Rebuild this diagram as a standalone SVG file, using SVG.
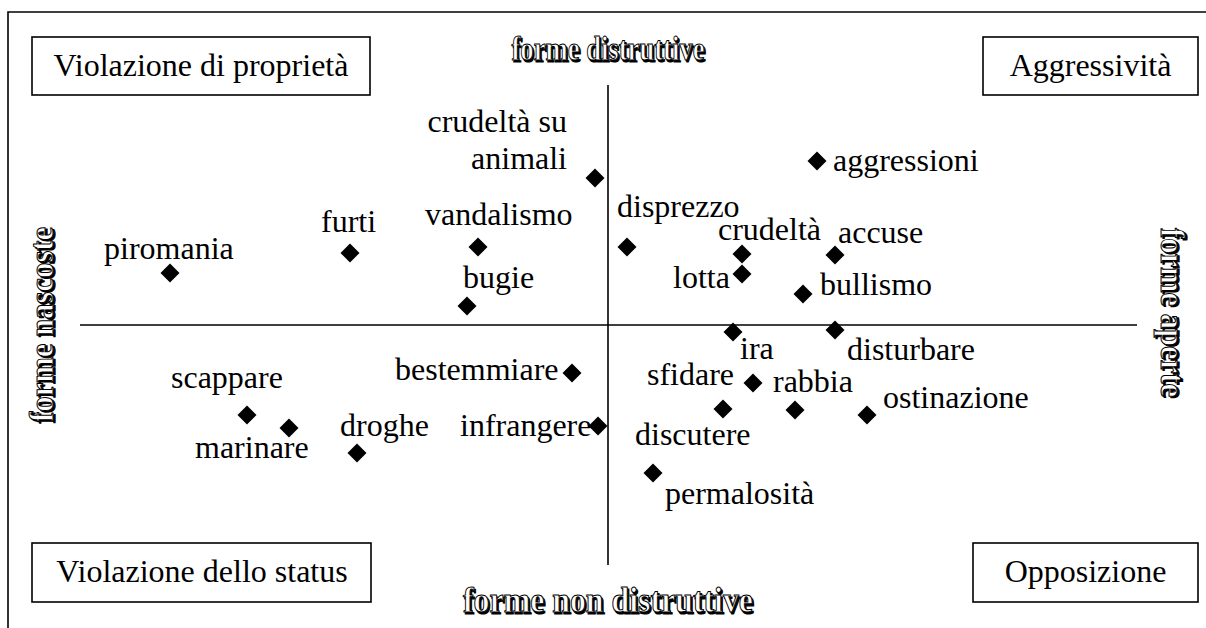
<svg xmlns="http://www.w3.org/2000/svg" xmlns:xlink="http://www.w3.org/1999/xlink" width="1206" height="628" viewBox="0 0 1206 628">
<style>
.lbl{font-family:"Liberation Serif","Times New Roman",serif;font-size:32px;fill:#000}
.box{fill:#fff;stroke:#000;stroke-width:1.6}
.ax{stroke:#000;stroke-width:1.6;fill:none}
.emb{font-family:"Liberation Serif","Times New Roman",serif;font-weight:bold;font-size:33px}
.sh{fill:#000;stroke:#000;stroke-width:1.2}
.fg{fill:#fff;stroke:#000;stroke-width:1}
</style>
<defs>
<path id="d" d="M0,-9.5 L9.5,0 L0,9.5 L-9.5,0 Z" fill="#000"/>
</defs>
<rect width="1206" height="628" fill="#fff"/>
<path class="ax" d="M8,628 V12 H1206"/>
<g id="axes">
<line class="ax" x1="608" y1="85" x2="608" y2="565"/>
<line class="ax" x1="80" y1="325" x2="1137" y2="325"/>
</g>
<g id="axis-labels">
<g id="top-label">
<text class="emb sh" x="609.5" y="61.5" text-anchor="middle" textLength="193" lengthAdjust="spacingAndGlyphs">forme distruttive</text>
<text class="emb fg" x="608" y="60" text-anchor="middle" textLength="193" lengthAdjust="spacingAndGlyphs">forme distruttive</text>
</g>
<g id="bottom-label">
<text class="emb sh" x="609.5" y="613.5" text-anchor="middle" textLength="290" lengthAdjust="spacingAndGlyphs" style="font-size:35px">forme non distruttive</text>
<text class="emb fg" x="608" y="612" text-anchor="middle" textLength="290" lengthAdjust="spacingAndGlyphs" style="font-size:35px">forme non distruttive</text>
</g>
<g id="left-label">
<text class="emb sh" transform="translate(54.5,326) rotate(-90)" text-anchor="middle" textLength="195" lengthAdjust="spacingAndGlyphs">forme nascoste</text>
<text class="emb fg" transform="translate(53,324.5) rotate(-90)" text-anchor="middle" textLength="195" lengthAdjust="spacingAndGlyphs">forme nascoste</text>
</g>
<g id="right-label">
<text class="emb sh" transform="translate(1162.5,314) rotate(90)" text-anchor="middle" textLength="169" lengthAdjust="spacingAndGlyphs">forme aperte</text>
<text class="emb fg" transform="translate(1161,312.5) rotate(90)" text-anchor="middle" textLength="169" lengthAdjust="spacingAndGlyphs">forme aperte</text>
</g>
</g>
<g id="q-violazione-proprieta">
<rect class="box" x="32" y="37" width="338" height="58"/>
<text class="lbl" x="201" y="76" text-anchor="middle">Violazione di proprietà</text>
</g>
<g id="q-aggressivita">
<rect class="box" x="983" y="37" width="215" height="58"/>
<text class="lbl" x="1090.5" y="76" text-anchor="middle">Aggressività</text>
</g>
<g id="q-violazione-status">
<rect class="box" x="32" y="543" width="339" height="59"/>
<text class="lbl" x="202" y="582" text-anchor="middle">Violazione dello status</text>
</g>
<g id="q-opposizione">
<rect class="box" x="973" y="543" width="225" height="59"/>
<text class="lbl" x="1085.5" y="582" text-anchor="middle">Opposizione</text>
</g>
<g id="n-crudelta-animali"><use xlink:href="#d" x="595" y="178"/><text class="lbl" x="567" y="132" text-anchor="end">crudeltà su</text><text class="lbl" x="567" y="169" text-anchor="end">animali</text></g>
<g id="n-vandalismo"><use xlink:href="#d" x="478" y="247"/><text class="lbl" x="425" y="225">vandalismo</text></g>
<g id="n-furti"><use xlink:href="#d" x="350" y="253"/><text class="lbl" x="321" y="232">furti</text></g>
<g id="n-piromania"><use xlink:href="#d" x="170" y="273"/><text class="lbl" x="104" y="259">piromania</text></g>
<g id="n-bugie"><use xlink:href="#d" x="467" y="306"/><text class="lbl" x="463" y="288">bugie</text></g>
<g id="n-disprezzo"><use xlink:href="#d" x="627" y="247"/><text class="lbl" x="617" y="217">disprezzo</text></g>
<g id="n-aggressioni"><use xlink:href="#d" x="817" y="161"/><text class="lbl" x="833" y="171">aggressioni</text></g>
<g id="n-crudelta"><use xlink:href="#d" x="742" y="254"/><text class="lbl" x="718" y="240">crudeltà</text></g>
<g id="n-accuse"><use xlink:href="#d" x="835" y="255"/><text class="lbl" x="838" y="243">accuse</text></g>
<g id="n-lotta"><use xlink:href="#d" x="742" y="274"/><text class="lbl" x="673" y="288">lotta</text></g>
<g id="n-bullismo"><use xlink:href="#d" x="803" y="294"/><text class="lbl" x="820" y="295">bullismo</text></g>
<g id="n-ira"><use xlink:href="#d" x="733" y="332"/><text class="lbl" x="740" y="359">ira</text></g>
<g id="n-disturbare"><use xlink:href="#d" x="835" y="330"/><text class="lbl" x="847" y="360">disturbare</text></g>
<g id="n-bestemmiare"><use xlink:href="#d" x="572" y="373"/><text class="lbl" x="395" y="380">bestemmiare</text></g>
<g id="n-sfidare"><use xlink:href="#d" x="753" y="383"/><text class="lbl" x="647" y="385">sfidare</text></g>
<g id="n-rabbia"><use xlink:href="#d" x="795" y="410"/><text class="lbl" x="773" y="392">rabbia</text></g>
<g id="n-ostinazione"><use xlink:href="#d" x="867" y="415"/><text class="lbl" x="883" y="408">ostinazione</text></g>
<g id="n-discutere"><use xlink:href="#d" x="723" y="409"/><text class="lbl" x="635" y="445">discutere</text></g>
<g id="n-permalosita"><use xlink:href="#d" x="653" y="473"/><text class="lbl" x="665" y="504">permalosità</text></g>
<g id="n-scappare"><use xlink:href="#d" x="247" y="415"/><text class="lbl" x="171" y="388">scappare</text></g>
<g id="n-marinare"><use xlink:href="#d" x="289" y="428"/><text class="lbl" x="195" y="458">marinare</text></g>
<g id="n-droghe"><use xlink:href="#d" x="357" y="453"/><text class="lbl" x="340" y="436">droghe</text></g>
<g id="n-infrangere"><use xlink:href="#d" x="598" y="426"/><text class="lbl" x="460" y="436">infrangere</text></g>
</svg>
